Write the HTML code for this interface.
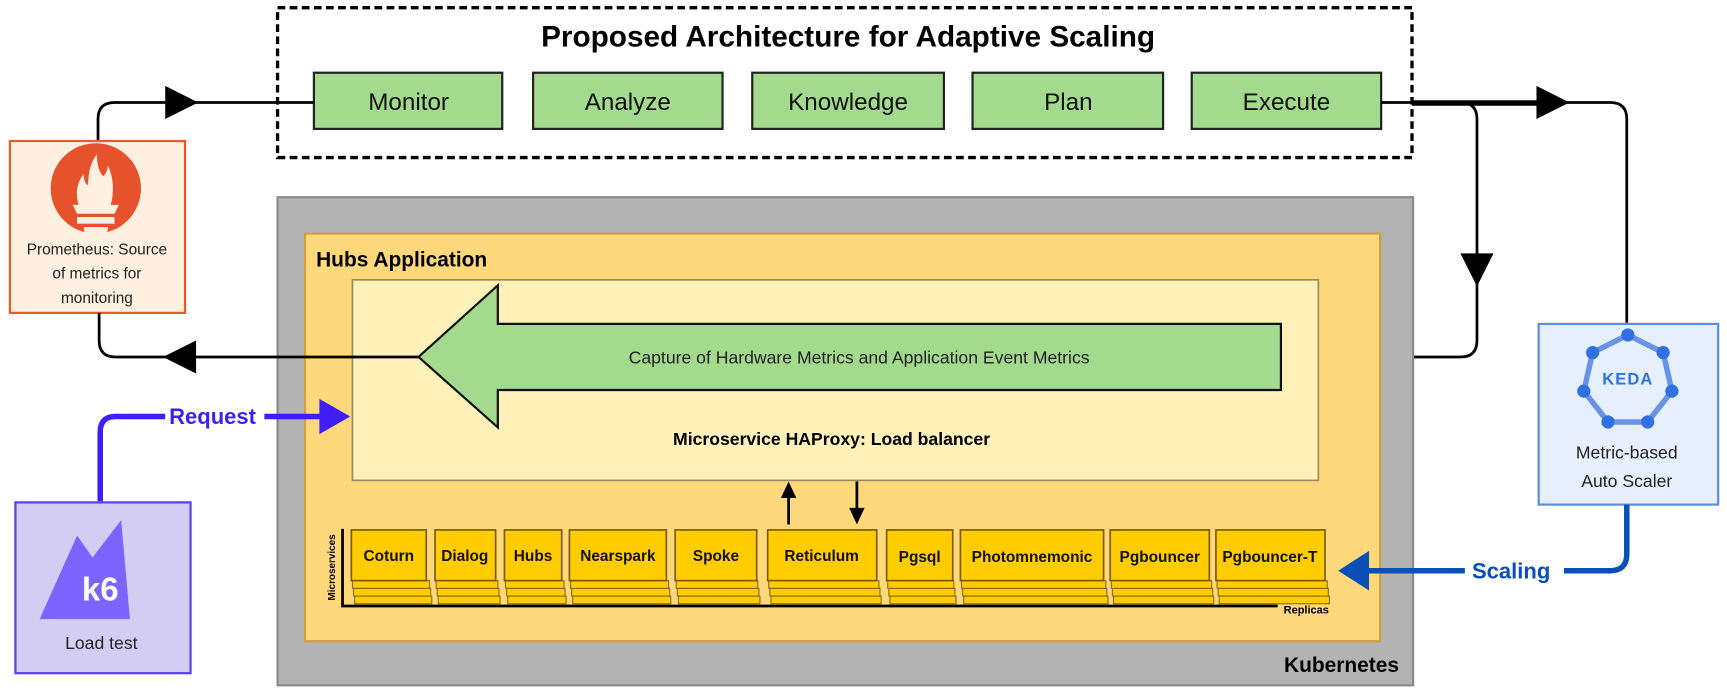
<!DOCTYPE html>
<html><head><meta charset="utf-8"><style>html,body{margin:0;padding:0;background:#fff}svg{display:block}text{font-family:"Liberation Sans",sans-serif}</style></head><body>
<svg width="1727" height="693" viewBox="0 0 1568 629" preserveAspectRatio="none" xmlns="http://www.w3.org/2000/svg">
<rect width="1568" height="629" fill="#fff"/>
<!-- top connectors -->
<path d="M89 127 V108 Q89 93 104 93 H285" fill="none" stroke="#000" stroke-width="2.5"/>
<polygon points="150,78 180,93 150,108" fill="#000"/>
<line x1="456" y1="93" x2="484" y2="93" stroke="#000" stroke-width="2.5"/>
<line x1="656" y1="93" x2="683" y2="93" stroke="#000" stroke-width="2.5"/>
<line x1="857" y1="93" x2="883" y2="93" stroke="#000" stroke-width="2.5"/>
<line x1="1056" y1="93" x2="1082" y2="93" stroke="#000" stroke-width="2.5"/>
<path d="M1254 93 H1462 Q1477 93 1477 108 V293" fill="none" stroke="#000" stroke-width="2.5"/>
<rect x="1280" y="91" width="125" height="5" fill="#000"/>
<polygon points="1395,78 1425,93 1395,108" fill="#000"/>
<path d="M1326 93 Q1341 93 1341 108 V309 Q1341 324 1326 324 H1163" fill="none" stroke="#000" stroke-width="2.5"/>
<polygon points="1326,230 1356,230 1341,260" fill="#000"/>
<!-- dashed box -->
<rect x="252" y="7" width="1030" height="136" fill="#fff" stroke="#000" stroke-width="3" stroke-dasharray="7,4"/>
<text x="770" y="42" text-anchor="middle" font-size="27" font-weight="bold">Proposed Architecture for Adaptive Scaling</text>
<g fill="#a3da8d" stroke="#222" stroke-width="2">
<rect x="285" y="66" width="171" height="51"/><rect x="484" y="66" width="172" height="51"/><rect x="683" y="66" width="174" height="51"/><rect x="883" y="66" width="173" height="51"/><rect x="1082" y="66" width="172" height="51"/>
</g>
<line x1="252" y1="93" x2="285" y2="93" stroke="#000" stroke-width="2.5"/>
<line x1="1254" y1="93" x2="1282" y2="93" stroke="#000" stroke-width="2.5"/>
<g font-size="22" text-anchor="middle" fill="#111">
<text x="371" y="100">Monitor</text><text x="570" y="100">Analyze</text><text x="770" y="100">Knowledge</text><text x="970" y="100">Plan</text><text x="1168" y="100">Execute</text>
</g>
<!-- prometheus -->
<rect x="9" y="128" width="159" height="156" fill="#fdf0e0" stroke="#e85a30" stroke-width="2"/>
<circle cx="87" cy="171" r="41" fill="#e6522c"/>
<path d="M72 188 Q66 170 76 158 Q76 166 80 168 Q80 150 88 140 Q88 155 94 160 Q98 155 98 150 Q106 168 100 188 Z" fill="#fdf0e0"/>
<path d="M66 186 H108 L104 194 H70 Z" fill="#fdf0e0"/>
<rect x="70" y="197" width="34" height="6" fill="#fdf0e0"/>
<path d="M76 206 H98 Q98 216 87 216 Q76 216 76 206 Z" fill="#fdf0e0"/>
<g font-size="14" text-anchor="middle" fill="#222"><text x="88" y="231">Prometheus: Source</text><text x="88" y="253">of metrics for</text><text x="88" y="275">monitoring</text></g>
<!-- kubernetes -->
<rect x="252" y="179" width="1031" height="443" fill="#b3b3b3" stroke="#8a8a8a" stroke-width="2"/>
<text x="1218" y="610" text-anchor="middle" font-size="19" font-weight="bold">Kubernetes</text>
<rect x="277" y="212" width="976" height="370" fill="#fed87a" stroke="#d0a040" stroke-width="2"/>
<text x="287" y="242" font-size="19" font-weight="bold">Hubs Application</text>
<rect x="320" y="254" width="877" height="182" fill="#fff1b8" stroke="#9a8a60" stroke-width="1.5"/>
<!-- return line -->
<path d="M380 324 H105 Q90 324 90 309 V284" fill="none" stroke="#000" stroke-width="2.5"/>
<polygon points="178,309 148,324 178,339" fill="#000"/>
<polygon points="380,324 452,259 452,294 1163,294 1163,354 452,354 452,388" fill="#a3da8d" stroke="#111" stroke-width="2"/>
<text x="780" y="330" text-anchor="middle" font-size="16" fill="#222">Capture of Hardware Metrics and Application Event Metrics</text>
<text x="755" y="404" text-anchor="middle" font-size="16" font-weight="bold">Microservice HAProxy: Load balancer</text>
<line x1="716" y1="476" x2="716" y2="450" stroke="#000" stroke-width="2.5"/><polygon points="709,452 723,452 716,437" fill="#000"/>
<line x1="778" y1="437" x2="778" y2="463" stroke="#000" stroke-width="2.5"/><polygon points="771,461 785,461 778,476" fill="#000"/>
<!-- microservices -->
<g stroke="#8a6a10" stroke-width="1" fill="#ffcc00">
<rect x="322" y="541" width="70" height="7"/><rect x="321" y="534" width="70" height="7"/><rect x="320" y="527" width="70" height="7"/>
<rect x="398" y="541" width="56" height="7"/><rect x="397" y="534" width="56" height="7"/><rect x="396" y="527" width="56" height="7"/>
<rect x="461" y="541" width="53" height="7"/><rect x="460" y="534" width="53" height="7"/><rect x="459" y="527" width="53" height="7"/>
<rect x="520" y="541" width="89" height="7"/><rect x="519" y="534" width="89" height="7"/><rect x="518" y="527" width="89" height="7"/>
<rect x="616" y="541" width="74" height="7"/><rect x="615" y="534" width="74" height="7"/><rect x="614" y="527" width="74" height="7"/>
<rect x="700" y="541" width="100" height="7"/><rect x="699" y="534" width="100" height="7"/><rect x="698" y="527" width="100" height="7"/>
<rect x="808" y="541" width="60" height="7"/><rect x="807" y="534" width="60" height="7"/><rect x="806" y="527" width="60" height="7"/>
<rect x="875" y="541" width="131" height="7"/><rect x="874" y="534" width="131" height="7"/><rect x="873" y="527" width="131" height="7"/>
<rect x="1011" y="541" width="91" height="7"/><rect x="1010" y="534" width="91" height="7"/><rect x="1009" y="527" width="91" height="7"/>
<rect x="1107" y="541" width="100" height="7"/><rect x="1106" y="534" width="100" height="7"/><rect x="1105" y="527" width="100" height="7"/>
</g>
<g stroke="#7a5a00" stroke-width="1.5" fill="#ffcc00">
<rect x="319" y="481" width="68" height="46"/><rect x="395" y="481" width="55" height="46"/><rect x="458" y="481" width="52" height="46"/><rect x="517" y="481" width="88" height="46"/><rect x="613" y="481" width="74" height="46"/><rect x="697" y="481" width="99" height="46"/><rect x="805" y="481" width="60" height="46"/><rect x="872" y="481" width="130" height="46"/><rect x="1008" y="481" width="90" height="46"/><rect x="1104" y="481" width="99" height="46"/>
</g>
<g font-size="14" font-weight="bold" text-anchor="middle" fill="#111">
<text x="353" y="509">Coturn</text><text x="422" y="509">Dialog</text><text x="484" y="509">Hubs</text><text x="561" y="509">Nearspark</text><text x="650" y="509">Spoke</text><text x="746" y="509">Reticulum</text><text x="835" y="510">Pgsql</text><text x="937" y="510">Photomnemonic</text><text x="1053" y="510">Pgbouncer</text><text x="1153" y="510">Pgbouncer-T</text>
</g>
<path d="M311 480 V550 H1160" fill="none" stroke="#000" stroke-width="2.5"/>
<text x="1186" y="557" text-anchor="middle" font-size="10" font-weight="bold">Replicas</text>
<text transform="translate(304,515) rotate(-90)" text-anchor="middle" font-size="9" font-weight="bold">Microservices</text>
<!-- request -->
<path d="M91 455 V392 Q91 378 105 378 H150" fill="none" stroke="#3f1ff5" stroke-width="5"/>
<text x="193" y="385" text-anchor="middle" font-size="20" font-weight="bold" fill="#3f1ff5">Request</text>
<line x1="240" y1="378" x2="292" y2="378" stroke="#3f1ff5" stroke-width="5"/>
<polygon points="290,362 318,378 290,394" fill="#3f1ff5"/>
<rect x="14" y="456" width="159" height="155" fill="#d3cdf4" stroke="#5a3cff" stroke-width="2"/>
<polygon points="36,562 70,486 84,506 110,472 118,562" fill="#7d64ff"/>
<text x="91" y="545" text-anchor="middle" font-size="30" font-weight="bold" fill="#fff">k6</text>
<text x="92" y="589" text-anchor="middle" font-size="16" fill="#222">Load test</text>
<!-- keda -->
<rect x="1397" y="294" width="163" height="164" fill="#e6f0fd" stroke="#5c8ee0" stroke-width="2"/>
<polygon points="1478,304 1510,320 1518,355 1496,383 1460,383 1438,355 1446,320" fill="none" stroke="#6a92e6" stroke-width="5"/>
<g fill="#3070e0"><circle cx="1478" cy="304" r="6"/><circle cx="1510" cy="320" r="6"/><circle cx="1518" cy="355" r="6"/><circle cx="1496" cy="383" r="6"/><circle cx="1460" cy="383" r="6"/><circle cx="1438" cy="355" r="6"/><circle cx="1446" cy="320" r="6"/></g>
<text x="1478" y="349" text-anchor="middle" font-size="15" font-weight="bold" fill="#3070e0" letter-spacing="1">KEDA</text>
<g font-size="16" text-anchor="middle" fill="#222"><text x="1477" y="416">Metric-based</text><text x="1477" y="442">Auto Scaler</text></g>
<!-- scaling -->
<path d="M1477 458 V503 Q1477 518 1462 518 H1420" fill="none" stroke="#0a4fb5" stroke-width="5"/>
<text x="1372" y="525" text-anchor="middle" font-size="20" font-weight="bold" fill="#0a4fb5">Scaling</text>
<line x1="1330" y1="518" x2="1240" y2="518" stroke="#0a4fb5" stroke-width="5"/>
<polygon points="1243,500 1215,518 1243,536" fill="#0a4fb5"/>
</svg>
</body></html>
